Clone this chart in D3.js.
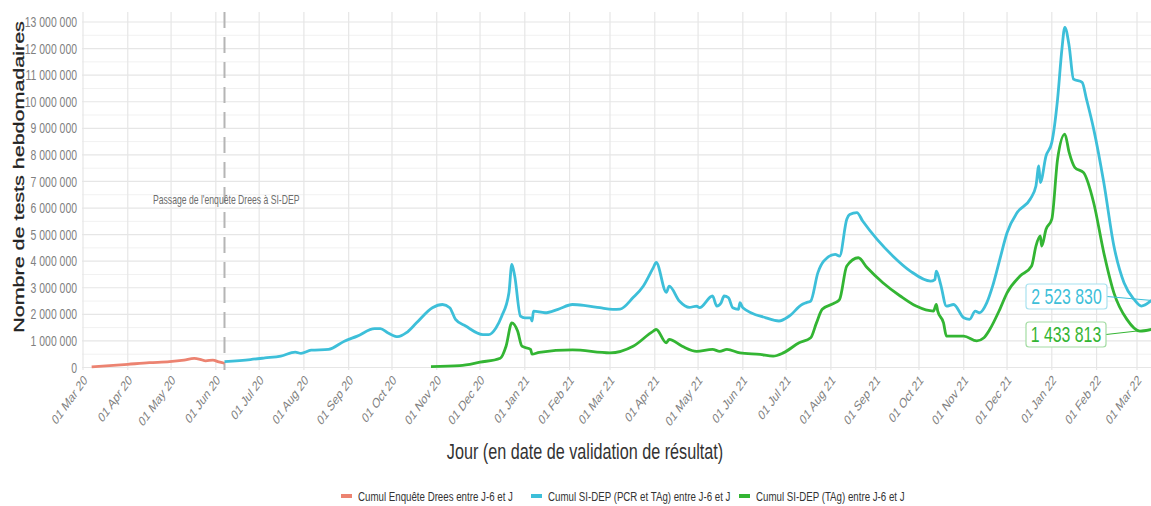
<!DOCTYPE html>
<html>
<head>
<meta charset="utf-8">
<script src="https://cdn.jsdelivr.net/npm/d3@7"></script>
<style>
  body { margin: 0; background: #fff; }
  text { font-family: "Liberation Sans", Arial, sans-serif; }
</style>
</head>
<body>
<svg id="chart"></svg>
<script>
// Series (weekly cumulative tests)
const dreesDates = ["2020-03-07","2020-04-01","2020-04-16","2020-04-30","2020-05-10","2020-05-17",
  "2020-05-21","2020-05-25","2020-05-30","2020-06-03","2020-06-07"];
const dreesValues = [20000,120000,180000,220000,280000,340000,310000,250000,280000,210000,160000];

const sidepDates = ["2020-06-07","2020-06-25","2020-07-05","2020-07-16","2020-07-26","2020-07-30",
  "2020-08-06","2020-08-18","2020-08-29","2020-09-07","2020-09-19","2020-09-23","2020-09-28",
  "2020-10-05","2020-10-11","2020-10-18","2020-10-29","2020-11-05","2020-11-10","2020-11-14",
  "2020-11-21","2020-12-03","2020-12-07","2020-12-12","2020-12-16","2020-12-21","2020-12-23",
  "2020-12-25","2020-12-29","2021-01-01","2021-01-05","2021-01-06","2021-01-07","2021-01-15",
  "2021-01-24","2021-02-03","2021-02-12","2021-02-22","2021-03-03","2021-03-08","2021-03-17",
  "2021-03-24","2021-03-31","2021-04-02","2021-04-09","2021-04-11","2021-04-18","2021-04-25",
  "2021-04-30","2021-05-02","2021-05-11","2021-05-14","2021-05-17","2021-05-19","2021-05-22",
  "2021-05-25","2021-05-29","2021-05-30","2021-06-01","2021-06-17","2021-06-26","2021-07-03",
  "2021-07-12","2021-07-15","2021-07-18","2021-07-23","2021-07-27","2021-08-04","2021-08-07",
  "2021-08-12","2021-08-14","2021-08-19","2021-08-23","2021-09-02","2021-09-13","2021-09-25",
  "2021-10-09","2021-10-12","2021-10-13","2021-10-16","2021-10-20","2021-10-25","2021-11-01",
  "2021-11-05","2021-11-09","2021-11-12","2021-11-17","2021-11-21","2021-11-26","2021-12-01",
  "2021-12-08","2021-12-17","2021-12-21","2021-12-23","2021-12-24","2021-12-28","2022-01-01",
  "2022-01-05","2022-01-08","2022-01-10","2022-01-13","2022-01-16","2022-01-22","2022-01-25",
  "2022-01-30","2022-02-06","2022-02-13","2022-02-20","2022-02-27","2022-03-04","2022-03-11"];
const sidepValues = [220000,300000,360000,430000,580000,530000,
  650000,680000,990000,1180000,1460000,1460000,1310000,
  1160000,1310000,1680000,2250000,2370000,2250000,1810000,
  1560000,1240000,1240000,1490000,1930000,2810000,3880000,
  3440000,1930000,1870000,1870000,1750000,2120000,2060000,
  2190000,2370000,2330000,2250000,2190000,2200000,2630000,
  3060000,3760000,3950000,2830000,3060000,2500000,2260000,
  2310000,2250000,2690000,2310000,2440000,2690000,2630000,
  2250000,2190000,2440000,2250000,1870000,1750000,1930000,
  2370000,2440000,2500000,3570000,4000000,4260000,4190000,
  5580000,5760000,5830000,5510000,4820000,4190000,3630000,
  3250000,3310000,3630000,3130000,2310000,2370000,1870000,
  1810000,2120000,2060000,2440000,3060000,4070000,5070000,
  5830000,6330000,6830000,7590000,6960000,7960000,8470000,
  10100000,11980000,12800000,12100000,10850000,10730000,10100000,
  8970000,6960000,4570000,3190000,2560000,2310000,2523830];

const tagDates = ["2020-10-28","2020-11-17","2020-12-01","2020-12-15","2020-12-19","2020-12-23",
  "2020-12-27","2020-12-30","2021-01-05","2021-01-06","2021-01-11","2021-02-03","2021-03-01",
  "2021-03-17","2021-03-31","2021-04-02","2021-04-09","2021-04-11","2021-04-20","2021-04-30",
  "2021-05-11","2021-05-16","2021-05-21","2021-05-30","2021-06-13","2021-06-22","2021-06-29",
  "2021-07-10","2021-07-18","2021-07-22","2021-07-26","2021-08-04","2021-08-07","2021-08-12",
  "2021-08-20","2021-08-26","2021-09-06","2021-09-18","2021-09-29","2021-10-11","2021-10-13",
  "2021-10-14","2021-10-18","2021-10-20","2021-11-01","2021-11-10","2021-11-15","2021-11-19",
  "2021-11-26","2021-12-01","2021-12-10","2021-12-18","2021-12-21","2021-12-24","2021-12-25",
  "2021-12-28","2022-01-01","2022-01-05","2022-01-10","2022-01-13","2022-01-17","2022-01-23",
  "2022-01-30","2022-02-06","2022-02-13","2022-02-22","2022-03-03","2022-03-11"];
const tagValues = [30000,70000,200000,350000,800000,1680000,
  1370000,800000,680000,500000,570000,660000,550000,
  800000,1370000,1430000,930000,1060000,800000,610000,
  680000,610000,680000,550000,490000,430000,550000,
  930000,1120000,1680000,2190000,2440000,2560000,3820000,
  4130000,3760000,3190000,2690000,2310000,2120000,2370000,
  2120000,1680000,1180000,1180000,1000000,1120000,1430000,
  2190000,2810000,3440000,3820000,4570000,4950000,4570000,
  5200000,5580000,7840000,8780000,8090000,7520000,7330000,
  6200000,4320000,2810000,1810000,1370000,1433813];

const seriesNames = ["Cumul Enquête Drees entre J-6 et J",
  "Cumul SI-DEP (PCR et TAg) entre J-6 et J",
  "Cumul SI-DEP (TAg) entre J-6 et J"];
const seriesColors = ["#ec8371", "#3dbfd9", "#33b533"];
const labelStroke = ["#f5c3ba", "#a8e2ef", "#a3dca3"];

const yTickValues = d3.range(0, 13000001, 1000000);
const yMinorValues = d3.range(500000, 13000000, 1000000);
const switchDate = "2020-06-07";
const switchText = "Passage de l'enquête Drees à SI-DEP";

const W = 1151, H = 506;
const SX = 0.72; // the reference is squeezed horizontally
const parse = d3.utcParse("%Y-%m-%d");
const panel = { left: 82, right: 1151, top: 12, bottom: 370 };

const svg = d3.select("#chart").attr("width", W).attr("height", H);

const xScale = d3.scaleUtc()
    .domain([parse("2020-03-01"), parse("2022-03-01")])
    .range([83, 1137]);
const yScale = d3.scaleLinear()
    .domain([0, 13000000])
    .range([367.5, 22]);

const sq = (x, y, rot) => `translate(${x},${y}) scale(${SX},1)` + (rot ? ` rotate(${rot})` : "");
const fmtNum = v => d3.format(",")(v).replace(/,/g, " ");

// Grid
const grid = svg.append("g");
grid.selectAll(".ymin").data(yMinorValues).enter().append("line")
    .attr("x1", panel.left).attr("x2", panel.right)
    .attr("y1", d => yScale(d)).attr("y2", d => yScale(d))
    .attr("stroke", "#f1f1f1").attr("stroke-width", 1);
grid.selectAll(".ymaj").data(yTickValues).enter().append("line")
    .attr("x1", panel.left).attr("x2", panel.right)
    .attr("y1", d => yScale(d)).attr("y2", d => yScale(d))
    .attr("stroke", "#e6e6e6").attr("stroke-width", 1.2);
const xTicks = d3.utcMonth.range(parse("2020-03-01"), parse("2022-03-02"));
grid.selectAll(".xmaj").data(xTicks).enter().append("line")
    .attr("x1", d => xScale(d)).attr("x2", d => xScale(d))
    .attr("y1", panel.top).attr("y2", panel.bottom)
    .attr("stroke", "#e6e6e6").attr("stroke-width", 1.2);

// Axes labels
svg.append("g").selectAll("text").data(yTickValues).enter().append("text")
    .attr("transform", d => sq(77, yScale(d)))
    .attr("dy", "0.35em")
    .attr("text-anchor", "end")
    .attr("font-size", 14.5)
    .attr("fill", "#7f7f7f")
    .text(d => fmtNum(d));

svg.append("g").selectAll("text").data(xTicks).enter().append("text")
    .attr("transform", d => sq(xScale(d), 374, -45))
    .attr("dy", "0.7em")
    .attr("text-anchor", "end")
    .attr("font-size", 14)
    .attr("fill", "#7f7f7f")
    .text(d => d3.utcFormat("%d %b %y")(d));

svg.append("text")
    .attr("transform", sq(24, 177, -90))
    .attr("text-anchor", "middle")
    .attr("font-size", 21.5)
    .attr("fill", "#222")
    .attr("stroke", "#222")
    .attr("stroke-width", 0.4)
    .text("Nombre de tests hebdomadaires");

svg.append("text")
    .attr("transform", sq(585, 459))
    .attr("text-anchor", "middle")
    .attr("font-size", 22.5)
    .attr("fill", "#333")
    .text("Jour (en date de validation de résultat)");

// Switch marker
svg.append("line")
    .attr("x1", xScale(parse(switchDate))).attr("x2", xScale(parse(switchDate)))
    .attr("y1", panel.top).attr("y2", panel.bottom)
    .attr("stroke", "#b5b5b5").attr("stroke-width", 2)
    .attr("stroke-dasharray", "16,9");
svg.append("text")
    .attr("transform", sq(153, 204))
    .attr("font-size", 12)
    .attr("fill", "#6d6d6d")
    .text(switchText);

// Lines
const line = d3.line()
    .x(d => xScale(d.date))
    .y(d => yScale(d.value))
    .curve(d3.curveMonotoneX);

const series = [
    dreesDates.map((d, i) => ({ date: parse(d), value: dreesValues[i] })),
    sidepDates.map((d, i) => ({ date: parse(d), value: sidepValues[i] })),
    tagDates.map((d, i) => ({ date: parse(d), value: tagValues[i] }))
];

svg.append("g").selectAll("path").data(series).enter().append("path")
    .attr("d", line)
    .attr("fill", "none")
    .attr("stroke", (d, i) => seriesColors[i])
    .attr("stroke-width", 2.8)
    .attr("stroke-linejoin", "round");

// End labels
const labelBoxes = [
    { s: 1, x: 1026, y: 284, w: 81, h: 25 },
    { s: 2, x: 1026, y: 322, w: 80, h: 25 }
];
labelBoxes.forEach(b => {
    const pts = series[b.s];
    const last = pts[pts.length - 1];
    svg.append("line")
        .attr("x1", b.x + b.w).attr("y1", b.y + b.h / 2)
        .attr("x2", xScale(last.date)).attr("y2", yScale(last.value))
        .attr("stroke", seriesColors[b.s]).attr("stroke-width", 1);
    svg.append("rect")
        .attr("x", b.x).attr("y", b.y).attr("width", b.w).attr("height", b.h)
        .attr("rx", 3)
        .attr("fill", "#fff")
        .attr("stroke", labelStroke[b.s]).attr("stroke-width", 1.2);
    svg.append("text")
        .attr("transform", sq(b.x + b.w / 2, b.y + b.h / 2))
        .attr("dy", "0.36em")
        .attr("text-anchor", "middle")
        .attr("font-size", 22)
        .attr("fill", seriesColors[b.s])
        .text(fmtNum(last.value));
});

// Legend
const legendX = [341, 531, 739];
const legend = svg.append("g");
seriesNames.forEach((name, i) => {
    legend.append("rect")
        .attr("x", legendX[i]).attr("y", 494)
        .attr("width", 11).attr("height", 4)
        .attr("fill", seriesColors[i]);
    legend.append("text")
        .attr("transform", sq(legendX[i] + 17, 496))
        .attr("dy", "0.35em")
        .attr("font-size", 13.5)
        .attr("fill", "#333")
        .text(name);
});
</script>
</body>
</html>
